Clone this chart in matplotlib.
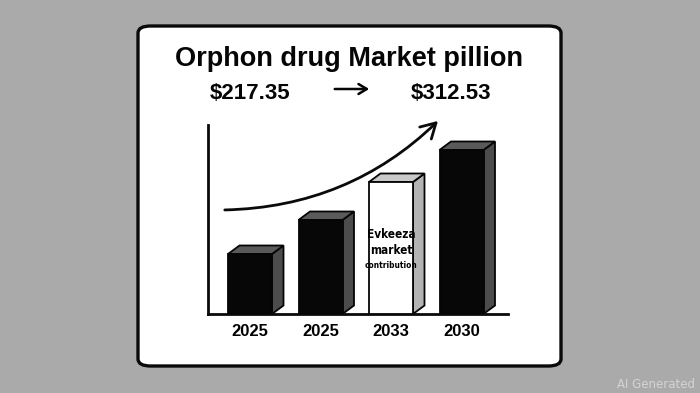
import matplotlib
matplotlib.use("Agg")
import matplotlib.pyplot as plt
from matplotlib.patches import Polygon, FancyBboxPatch, FancyArrowPatch
from matplotlib import font_manager
import numpy as np

# ---- data ----
years = ["2025", "2025", "2033", "2030"]
values = [60, 94, 132, 164]          # relative bar heights
front_colors = ["#070707", "#070707", "#ffffff", "#070707"]
top_colors = ["#5a5a5a", "#5a5a5a", "#c9c9c9", "#5a5a5a"]
side_colors = ["#4c4c4c", "#4c4c4c", "#b3b3b3", "#4c4c4c"]
title = "Orphon drug Market pillion"
start_value = "$217.35"
end_value = "$312.53"
bar_note = ["Evkeeza", "market", "contribution"]

W, H = 700, 393
fig = plt.figure(figsize=(W / 100, H / 100), dpi=100)
fig.patch.set_facecolor("#aaaaaa")

def fx(px):
    return px / W

def fy(py):
    return 1 - py / H

# panel
panel = FancyBboxPatch((fx(138), fy(366)), fx(561) - fx(138), fy(26) - fy(366),
                       boxstyle="round,pad=0,rounding_size=0.018",
                       transform=fig.transFigure, facecolor="white",
                       edgecolor="#0a0a0a", linewidth=2.4, zorder=0)
fig.patches.append(panel)

# chart axes
ax_left, ax_right, ax_top, ax_bottom = 208, 508, 125, 314
ax = fig.add_axes([fx(ax_left), fy(ax_bottom), fx(ax_right) - fx(ax_left), fy(ax_top) - fy(ax_bottom)])
ax.set_zorder(2)
ax.set_facecolor("none")
unit = 70.5
xs = np.arange(len(values))
ax.set_xlim(-42 / unit, (ax_right - ax_left - 42) / unit)
ax.set_ylim(0, ax_bottom - ax_top)
width = 44 / unit
ddx = 11.5 / unit
ddy = 8.5

for x, v, fc, tc, sc in zip(xs, values, front_colors, top_colors, side_colors):
    xl, xr = x - width / 2, x + width / 2
    side = Polygon([(xr, 0), (xr, v), (xr + ddx, v + ddy), (xr + ddx, ddy)],
                   closed=True, facecolor=sc, edgecolor="#050505", linewidth=1.3, zorder=2)
    top = Polygon([(xl, v), (xl + ddx, v + ddy), (xr + ddx, v + ddy), (xr, v)],
                  closed=True, facecolor=tc, edgecolor="#050505", linewidth=1.3, zorder=2)
    ax.add_patch(side)
    ax.add_patch(top)
ax.bar(xs, values, width=width, color=front_colors, edgecolor="#050505", linewidth=1.3, zorder=3)

for s in ["top", "right"]:
    ax.spines[s].set_visible(False)
for s in ["left", "bottom"]:
    ax.spines[s].set_linewidth(2.0)
    ax.spines[s].set_color("#0a0a0a")
ax.set_yticks([])
ax.set_xticks(xs)
ax.set_xticklabels(years, fontfamily="Liberation Sans", fontweight="bold", fontsize=12)
ax.tick_params(axis="x", length=0, pad=7)

# note inside white bar (condensed font)
names = {f.name for f in font_manager.fontManager.ttflist}
cond = [f for f in font_manager.fontManager.ttflist
        if f.name == "DejaVu Sans" and "ondensed" in f.fname and "Bold" in f.fname and "Oblique" not in f.fname]
if "Liberation Sans Narrow" in names:
    nprops = dict(family="Liberation Sans Narrow", fontweight="bold")
    s1, s3 = 9.5, 6.5
elif cond:
    nprops = dict(fontproperties=font_manager.FontProperties(fname=cond[0].fname))
    s1, s3 = 8.5, 6.0
else:
    nprops = dict(family="DejaVu Sans", fontweight="bold")
    s1, s3 = 7.5, 5.0

def note(y, txt, size):
    t = ax.text(2, y, txt, ha="center", va="center", zorder=4, **nprops)
    t.set_fontsize(size)

note(313 - 233, bar_note[0], s1)
note(313 - 249, bar_note[1], s1)
note(313 - 264, bar_note[2], s3)

# growth curve arrow
arr = FancyArrowPatch(
    (fx(222), fy(210)), (fx(440), fy(119)), transform=fig.transFigure,
    connectionstyle="arc3,rad=0.2", arrowstyle="->,head_length=7,head_width=4",
    color="#0a0a0a", linewidth=2.0, mutation_scale=1.5, zorder=3)
fig.add_artist(arr)

# titles
fig.text(fx(349), fy(66), title, ha="center", va="baseline", fontsize=19.5,
         fontweight="bold", family="Liberation Sans", color="#050505", zorder=3)
fig.text(fx(250), fy(99), start_value, ha="center", va="baseline", fontsize=16,
         fontweight="bold", family="Liberation Sans", color="#050505", zorder=3)
fig.text(fx(451), fy(99), end_value, ha="center", va="baseline", fontsize=16,
         fontweight="bold", family="Liberation Sans", color="#050505", zorder=3)
fig.add_artist(FancyArrowPatch(
    (fx(332), fy(89)), (fx(372), fy(89)), transform=fig.transFigure,
    arrowstyle="->,head_length=5,head_width=3", color="#050505", linewidth=1.8,
    mutation_scale=1.2, zorder=3))

fig.text(fx(695), fy(388), "AI Generated", ha="right", va="baseline", fontsize=8.5,
         family="DejaVu Sans", color="#d4d4d4", zorder=3)

fig.savefig("out.png", dpi=100, facecolor=fig.get_facecolor())
